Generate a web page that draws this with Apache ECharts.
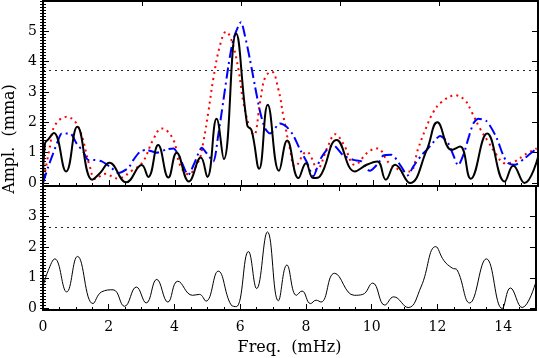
<!DOCTYPE html>
<html>
<head>
    <meta charset="utf-8">
    <title>Ampl. vs Freq.</title>
    <script src="https://cdn.jsdelivr.net/npm/echarts@6.0.0/dist/echarts.min.js"></script>
    <style>
        html, body { margin: 0; padding: 0; background: #fff; }
        #chart { width: 539px; height: 358px; }
    </style>
</head>
<body>
<div id="chart"></div>
<script>
// top panel, black solid
var blackTopFreq = [0.0, 0.06, 0.16, 0.33, 0.70, 1.04, 1.49, 1.73, 2.01, 2.52, 2.99, 3.19, 3.49, 3.80, 4.05, 4.42, 4.78, 4.98, 5.26, 5.48, 5.85, 6.19, 6.32, 6.55, 6.81, 7.15, 7.40, 7.74, 7.97, 8.19, 8.39, 8.90, 9.45, 9.81, 10.13, 10.39, 10.67, 11.12, 11.63, 11.95, 12.38, 12.64, 12.96, 13.46, 13.99, 14.25, 14.59, 15.0];
var blackTopAmp  = [0.0, 1.30, 1.44, 1.65, 0.38, 1.85, 0.11, 0.33, 0.67, 0.02, 0.59, 0.20, 1.25, 0.18, 1.00, 0.05, 0.84, 0.20, 2.12, 0.79, 4.93, 1.90, 1.74, 0.47, 2.58, 0.40, 1.40, 0.16, 0.65, 0.16, 0.22, 1.42, 0.38, 0.60, 0.71, 0.11, 0.60, 0.00, 1.09, 2.00, 1.09, 1.20, 0.14, 1.63, 0.05, 0.57, 0.00, 0.85];

// top panel, red dotted
var redTopFreq = [0.0, 0.21, 0.36, 0.72, 1.07, 1.42, 1.58, 1.88, 2.25, 2.73, 3.03, 3.33, 3.60, 3.94, 4.15, 4.40, 4.71, 4.86, 5.01, 5.16, 5.36, 5.55, 5.72, 5.92, 6.07, 6.27, 6.39, 6.58, 6.73, 6.93, 7.13, 7.28, 7.48, 7.64, 7.99, 8.17, 8.29, 8.65, 8.85, 9.10, 9.45, 9.86, 10.13, 10.49, 10.82, 11.12, 11.37, 11.58, 11.83, 12.08, 12.50, 12.79, 12.99, 13.24, 13.49, 13.74, 13.99, 14.30, 14.60, 14.96];
var redTopAmp  = [0.0, 1.20, 1.90, 2.18, 1.85, 0.54, 0.13, 0.30, 0.15, 0.43, 0.70, 1.41, 1.80, 1.45, 0.60, 0.29, 0.71, 1.36, 2.34, 3.43, 4.52, 4.99, 4.68, 3.76, 2.67, 1.80, 1.58, 2.67, 3.48, 3.67, 3.10, 2.23, 1.14, 0.54, 1.03, 0.76, 0.43, 1.25, 1.61, 1.30, 0.60, 1.03, 1.14, 0.65, 0.43, 0.38, 1.14, 1.74, 2.34, 2.67, 2.89, 2.72, 2.34, 1.80, 1.36, 0.93, 0.65, 0.71, 0.93, 1.14];

// top panel, blue dash-dot
var blueTopFreq = [0.0, 0.16, 0.31, 0.46, 0.57, 0.82, 1.02, 1.22, 1.37, 1.50, 1.78, 2.08, 2.28, 2.58, 2.74, 2.94, 3.14, 3.44, 3.75, 3.95, 4.15, 4.40, 4.61, 4.81, 4.96, 5.16, 5.31, 5.46, 5.62, 5.77, 6.00, 6.12, 6.27, 6.42, 6.58, 6.73, 6.88, 7.18, 7.38, 7.58, 7.79, 7.99, 8.19, 8.39, 8.60, 8.79, 9.09, 9.40, 9.65, 9.90, 10.16, 10.31, 10.56, 10.82, 11.05, 11.22, 11.48, 11.63, 11.93, 12.03, 12.28, 12.43, 12.58, 12.74, 12.89, 13.04, 13.19, 13.45, 13.74, 13.95, 14.10, 14.30, 14.60, 14.96];
var blueTopAmp  = [0.0, 0.54, 0.98, 1.41, 1.63, 1.63, 1.30, 1.03, 0.76, 0.76, 0.71, 0.49, 0.33, 0.49, 0.76, 1.03, 1.09, 1.00, 1.11, 1.14, 0.82, 0.27, 0.71, 1.16, 0.98, 0.71, 1.58, 2.67, 3.87, 4.74, 5.30, 4.85, 4.08, 3.21, 2.34, 1.80, 1.63, 1.96, 1.85, 1.58, 1.10, 0.70, 0.22, 0.76, 1.09, 1.25, 0.92, 0.76, 0.71, 0.40, 0.65, 0.90, 0.93, 0.60, 0.25, 0.54, 0.93, 1.09, 1.47, 1.55, 1.31, 0.93, 0.58, 0.93, 1.47, 1.96, 2.12, 2.03, 1.50, 0.90, 0.65, 0.60, 0.82, 1.14];

// bottom panel, black solid
var bottomFreq = [0.0, 0.16, 0.36, 0.72, 1.05, 1.52, 1.78, 2.13, 2.48, 2.84, 3.14, 3.46, 3.80, 4.10, 4.55, 4.76, 4.96, 5.33, 5.72, 5.88, 6.25, 6.50, 6.83, 7.16, 7.42, 7.71, 7.88, 8.14, 8.31, 8.46, 8.87, 9.47, 9.73, 10.03, 10.40, 10.67, 11.11, 11.50, 11.95, 12.20, 12.45, 12.60, 12.98, 13.49, 13.97, 14.22, 14.58, 14.98];
var bottomAmp  = [0.72, 1.24, 1.62, 0.54, 1.70, 0.16, 0.54, 0.61, 0.07, 0.70, 0.18, 0.95, 0.21, 0.89, 0.43, 0.46, 0.24, 1.22, 0.12, 0.06, 1.86, 0.65, 2.50, 0.25, 1.42, 0.43, 0.57, 0.16, 0.27, 0.21, 1.15, 0.43, 0.46, 0.83, 0.11, 0.38, 0.03, 0.70, 2.02, 1.56, 1.32, 1.26, 0.18, 1.62, 0.00, 0.67, 0.03, 0.81];

// significance levels (dotted)
var topThreshold = 3.72;
var bottomThreshold = 2.64;

// axis ticks
var topYTicks = [0, 1, 2, 3, 4, 5];
var bottomYTicks = [0, 1, 2, 3];

function pairs(xs, ys) {
    return xs.map(function (x, i) { return [x, ys[i]]; });
}
function steps(from, to, step) {
    var out = [];
    for (var v = from; v <= to + 1e-9; v += step) out.push(Math.round(v * 10) / 10);
    return out;
}

var font = 'DejaVu Serif';
var axisLine = { show: true, onZero: false, lineStyle: { color: '#000', width: 2 } };

function yAxes(gridIndex, min, max, majors, showLabels) {
    var minors = steps(0, max, 0.1);
    var list = [];
    ['left', 'right'].forEach(function (pos) {
        list.push({
            type: 'value', gridIndex: gridIndex, position: pos, min: min, max: max,
            axisLine: axisLine,
            axisTick: { show: true, inside: true, length: 6, customValues: majors, lineStyle: { color: '#000' } },
            axisLabel: { show: showLabels && pos === 'left', customValues: majors, color: '#000', fontFamily: font, fontSize: 14, margin: 6 },
            splitLine: { show: false }
        });
        list.push({
            type: 'value', gridIndex: gridIndex, position: pos, min: min, max: max,
            axisLine: { show: false },
            axisTick: { show: true, inside: true, length: 3, customValues: minors, lineStyle: { color: '#000' } },
            axisLabel: { show: false },
            splitLine: { show: false }
        });
    });
    return list;
}

function xAxes(gridIndex, showLabels) {
    return [{
        type: 'value', gridIndex: gridIndex, position: 'bottom', min: 0, max: 15, interval: 2,
        axisLine: axisLine,
        axisTick: { show: true, inside: true, length: 6, lineStyle: { color: '#000' } },
        minorTick: { show: true, splitNumber: 4, length: 3, lineStyle: { color: '#000' } },
        axisLabel: { show: showLabels, color: '#000', fontFamily: font, fontSize: 14, margin: 10,
            formatter: function (v) { return v > 14 ? '' : v; } },
        splitLine: { show: false },
        name: showLabels ? 'Freq.  (mHz)' : '',
        nameLocation: 'middle', nameGap: 30,
        nameTextStyle: { color: '#000', fontFamily: font, fontSize: 16 }
    }, {
        type: 'value', gridIndex: gridIndex, position: 'top', min: 0, max: 15, interval: 3,
        axisLine: axisLine,
        axisTick: { show: true, inside: true, length: 5, lineStyle: { color: '#000' } },
        axisLabel: { show: false },
        splitLine: { show: false }
    }];
}

function threshold(v) {
    return {
        silent: true, symbol: 'none', label: { show: false },
        lineStyle: { color: '#000', width: 1, type: [2, 4], opacity: 0.85 },
        data: [{ yAxis: v }]
    };
}

var chart = echarts.init(document.getElementById('chart'));

var option = {
    animation: false,
    backgroundColor: '#fff',
    grid: [
        { left: 43, right: 1, top: 1, height: 185 },
        { left: 43, right: 1, top: 186, height: 124 }
    ],
    xAxis: xAxes(0, false).concat(xAxes(1, true)),
    yAxis: yAxes(0, -0.1, 6, topYTicks, true).concat(yAxes(1, -0.05, 4, bottomYTicks, true)),
    graphic: [{
        type: 'text', x: 10, y: 139, rotation: Math.PI / 2,
        style: { text: 'Ampl.  (mma)', fill: '#000', font: '16px "DejaVu Serif"', align: 'center', verticalAlign: 'middle' }
    }],
    series: [{
        type: 'line', xAxisIndex: 0, yAxisIndex: 0,
        data: pairs(redTopFreq, redTopAmp),
        smooth: 0.4, showSymbol: false,
        lineStyle: { color: '#ff0000', width: 2, type: [2, 4] },
        markLine: threshold(topThreshold)
    }, {
        type: 'line', xAxisIndex: 0, yAxisIndex: 0,
        data: pairs(blueTopFreq, blueTopAmp),
        smooth: 0.25, showSymbol: false,
        lineStyle: { color: '#0000ff', width: 2, type: [11, 4, 2, 4] }
    }, {
        type: 'line', xAxisIndex: 0, yAxisIndex: 0,
        data: pairs(blackTopFreq, blackTopAmp),
        smooth: 0.45, showSymbol: false,
        lineStyle: { color: '#000', width: 2 }
    }, {
        type: 'line', xAxisIndex: 2, yAxisIndex: 4,
        data: pairs(bottomFreq, bottomAmp),
        smooth: 0.45, showSymbol: false,
        lineStyle: { color: '#000', width: 1 },
        markLine: threshold(bottomThreshold)
    }]
};

chart.setOption(option);
</script>
</body>
</html>
